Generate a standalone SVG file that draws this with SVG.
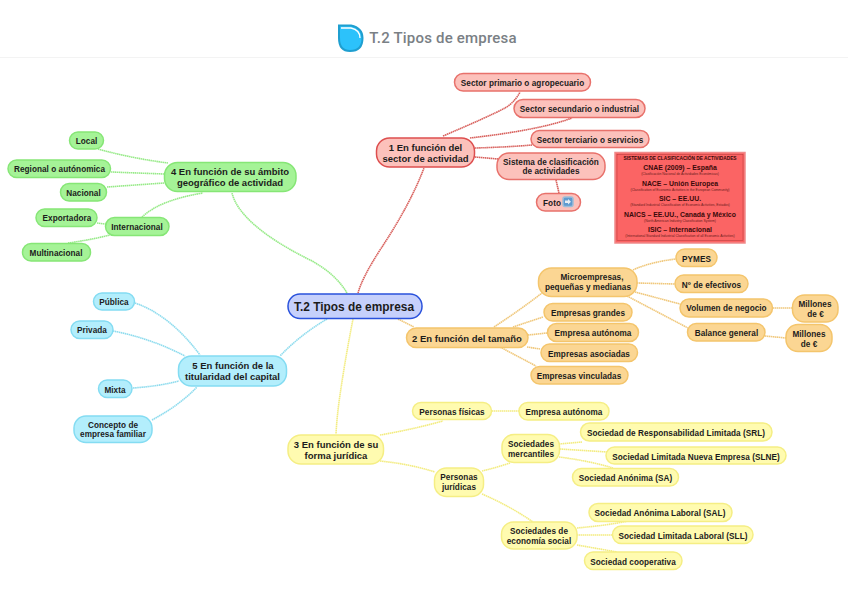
<svg xmlns="http://www.w3.org/2000/svg" width="848" height="599" viewBox="0 0 848 599">
<style>
text{font-family:"Liberation Sans",Arial,sans-serif;text-anchor:middle;fill:#1c1c1c}
.n rect{stroke-width:1.5}
.t{font-size:8.2px;font-weight:bold;letter-spacing:.05px}
.b{font-size:9.5px;font-weight:bold}
.r rect{fill:#fcc1bb;stroke:#e8716b}
.o rect{fill:#fbd693;stroke:#f4c56c}
.y rect{fill:#fffbb0;stroke:#f5ee84}
.g rect{fill:#a5f397;stroke:#86e676}
.c rect{fill:#b3eefc;stroke:#84dcf2}
.k{fill:none;stroke-width:1.6;stroke-dasharray:1.5 .5}
.kr{stroke:#d8605c}.ko{stroke:#f0c87c}.ky{stroke:#f3ec80}.kg{stroke:#97ea88}.kc{stroke:#8fdcee}
.s{font-size:3.4px;fill:#6a2020;font-weight:normal}
.h{font-size:6.9px;font-weight:bold;fill:#3a0a0a}
</style>
<rect width="848" height="599" fill="#fff"/>
<g id="header">
<line x1="0" y1="57.500" x2="848" y2="57.500" stroke="#f3f3f3"/>
<path d="M339 25.500H351Q362.500 28 362.500 38Q362.500 51 350 51Q339 51 339 38Z" fill="#2cc2fb" stroke="#1f9fd0" stroke-width="2"/>
<path d="M341 28H351Q360 30 360 38" fill="none" stroke="#fff" stroke-width="1.300"/>
<text x="443" y="43" style="font-family:Roboto,'Liberation Sans',sans-serif;font-size:15px;font-weight:500;fill:#7a8085;letter-spacing:.2px">T.2 Tipos de empresa</text>
</g>
<g id="connectors">
<path class="k kr" d="M358 293Q362 278 380 250Q410 205 424 168"/>
<path class="k kr" d="M443 136Q490 116 505 108Q515 102 520 92"/>
<path class="k kr" d="M470 138Q540 130 572 118"/>
<path class="k kr" d="M475 148Q510 147 532 145"/>
<path class="k kr" d="M475 157L498 159"/>
<path class="k kr" d="M556 180L559 193"/>
<path class="k kg" d="M347 293Q335 273 310 260Q240 225 232 193"/>
<path class="k kg" d="M98 149Q130 158 168 163"/>
<path class="k kg" d="M111 172L164 174"/>
<path class="k kg" d="M107 187L164 183"/>
<path class="k kg" d="M142 217Q160 200 203 193"/>
<path class="k kg" d="M97 223L105 224"/>
<path class="k kg" d="M68 243Q90 240 110 235"/>
<path class="k kc" d="M327 319Q300 335 280 356"/>
<path class="k kc" d="M135 303Q170 315 200 355"/>
<path class="k kc" d="M113 331Q150 338 185 356"/>
<path class="k kc" d="M133 388Q160 386 179 381"/>
<path class="k kc" d="M152 420Q180 405 197 387"/>
<path class="k ko" d="M398 319L414 327"/>
<path class="k ko" d="M494 327Q520 310 542 293"/>
<path class="k ko" d="M513 327L543 317"/>
<path class="k ko" d="M528 335L547 333"/>
<path class="k ko" d="M527 347L540 349"/>
<path class="k ko" d="M500 347L536 366"/>
<path class="k ko" d="M633 270Q650 262 676 259"/>
<path class="k ko" d="M637 283L675 284"/>
<path class="k ko" d="M635 292L680 304"/>
<path class="k ko" d="M627 296L688 328"/>
<path class="k ko" d="M773 308H793"/>
<path class="k ko" d="M765 336L786 338"/>
<path class="k ky" d="M353 319Q345 360 340 395Q337 415 336 434"/>
<path class="k ky" d="M380 435Q410 430 443 421"/>
<path class="k ky" d="M492 411H519"/>
<path class="k ky" d="M380 461Q410 464 435 472"/>
<path class="k ky" d="M482 471Q495 468 510 463"/>
<path class="k ky" d="M482 494Q510 506 533 522"/>
<path class="k ky" d="M559 444L582 442"/>
<path class="k ky" d="M560 449L607 452"/>
<path class="k ky" d="M559 457Q590 461 613 468"/>
<path class="k ky" d="M577 528Q610 525 628 521"/>
<path class="k ky" d="M577 535H613"/>
<path class="k ky" d="M577 545L617 552"/>
</g>
<g id="root" class="n"><rect x="288" y="294" width="134" height="24.500" rx="12" fill="#c6d0fb" stroke="#2a52dc" stroke-width="1.700"/><text x="354" y="311" style="font-size:11.900px;font-weight:bold">T.2 Tipos de empresa</text></g>
<g id="n1" class="n r"><rect x="376.500" y="138" width="98" height="29" rx="13" style="stroke:#dd4f4f"/><text class="b" x="425.500" y="151">1 En función del</text><text class="b" x="425.500" y="162">sector de actividad</text></g>
<g id="n11" class="n r"><rect x="454.500" y="73.500" width="136" height="17.500" rx="8.700"/><text class="t" x="522.500" y="86">Sector primario o agropecuario</text></g>
<g id="n12" class="n r"><rect x="514" y="99.500" width="131" height="18" rx="9"/><text class="t" x="579.500" y="112">Sector secundario o industrial</text></g>
<g id="n13" class="n r"><rect x="531" y="130.500" width="118" height="17" rx="8.500"/><text class="t" x="590" y="143">Sector terciario o servicios</text></g>
<g id="n14" class="n r"><rect x="497" y="153" width="108" height="26.500" rx="12"/><text class="t" x="551" y="165">Sistema de clasificación</text><text class="t" x="551" y="174">de actividades</text></g>
<g id="n15" class="n r"><rect x="536.500" y="193.500" width="44" height="17.500" rx="8.700"/><text class="t" x="552" y="206">Foto</text><rect x="563" y="197" width="10" height="9.500" rx="2" style="fill:#5f9bd0;stroke:#9dbdd8"/><path d="M565 200.500h3v-1.500l3 2.700-3 2.700v-1.500h-3z" fill="#e8eef4"/></g>
<g id="classification">
<rect x="615" y="152.500" width="130" height="90.500" fill="#fb6464" stroke="#f08a8a" stroke-width="1.500"/>
<rect x="617" y="154.500" width="126" height="86" fill="none" stroke="#b23a3a" stroke-width=".5"/>
<text x="680" y="160" style="font-size:4.800px;font-weight:bold;fill:#3a0a0a">SISTEMAS DE CLASIFICACIÓN DE ACTIVIDADES</text>
<text class="h" x="680" y="170">CNAE (2009) – España</text>
<text class="s" x="680" y="175">(Clasificación Nacional de Actividades Económicas)</text>
<text class="h" x="680" y="186">NACE – Unión Europea</text>
<text class="s" x="680" y="190.500">(Classification of Economic Activities in the European Community)</text>
<text class="h" x="680" y="201">SIC – EE.UU.</text>
<text class="s" x="680" y="206">(Standard Industrial Classification of Economic Activities, Estados)</text>
<text class="h" x="680" y="217">NAICS – EE.UU., Canadá y México</text>
<text class="s" x="680" y="222">(North American Industry Classification System)</text>
<text class="h" x="680" y="232">ISIC – Internacional</text>
<text class="s" x="680" y="237">(International Standard Industrial Classification of all Economic Activities)</text>
</g>
<g id="n2" class="n o"><rect x="406.500" y="328" width="121.500" height="19.500" rx="9.700"/><text class="b" x="467" y="341.500">2 En función del tamaño</text></g>
<g id="n21" class="n o"><rect x="538.500" y="268" width="98.500" height="28.500" rx="13"/><text class="t" x="592" y="280">Microempresas,</text><text class="t" x="588" y="290">pequeñas y medianas</text></g>
<g id="n22" class="n o"><rect x="544" y="303.500" width="88" height="17.500" rx="8.700"/><text class="t" x="588" y="315.500">Empresas grandes</text></g>
<g id="n23" class="n o"><rect x="547.500" y="323.500" width="91" height="18" rx="9"/><text class="t" x="593" y="336">Empresa autónoma</text></g>
<g id="n24" class="n o"><rect x="541" y="344" width="96.500" height="17.500" rx="8.700"/><text class="t" x="589" y="356.500">Empresas asociadas</text></g>
<g id="n25" class="n o"><rect x="531" y="366.500" width="97" height="17.500" rx="8.700"/><text class="t" x="579" y="378.500">Empresas vinculadas</text></g>
<g id="n26" class="n o"><rect x="676" y="249" width="41" height="17.500" rx="8.700"/><text class="t" x="696.500" y="261.500">PYMES</text></g>
<g id="n27" class="n o"><rect x="675" y="275" width="73" height="17.500" rx="8.700"/><text class="t" x="711.500" y="287.500">Nº de efectivos</text></g>
<g id="n28" class="n o"><rect x="680" y="299" width="92.500" height="18" rx="9"/><text class="t" x="726.500" y="311">Volumen de negocio</text></g>
<g id="n29" class="n o"><rect x="687.500" y="323.500" width="77.500" height="17.500" rx="8.700"/><text class="t" x="726.500" y="335.500">Balance general</text></g>
<g id="n210" class="n o"><rect x="792.500" y="295" width="45.500" height="27" rx="12"/><text class="t" x="815" y="306.500">Millones</text><text class="t" x="815.500" y="316.500">de €</text></g>
<g id="n211" class="n o"><rect x="786" y="324.500" width="46" height="27" rx="12"/><text class="t" x="809" y="336.500">Millones</text><text class="t" x="809" y="346.500">de €</text></g>
<g id="n3" class="n y"><rect x="288" y="435" width="95.500" height="29" rx="13"/><text class="b" x="336" y="448">3 En función de su</text><text class="b" x="336" y="459">forma jurídica</text></g>
<g id="n31" class="n y"><rect x="412.500" y="402.500" width="79" height="17" rx="8.500"/><text class="t" x="452" y="414.500">Personas físicas</text></g>
<g id="n32" class="n y"><rect x="519" y="402.500" width="90" height="17.500" rx="8.700"/><text class="t" x="564" y="415">Empresa autónoma</text></g>
<g id="n33" class="n y"><rect x="434.500" y="468" width="49" height="28.500" rx="12"/><text class="t" x="459" y="480">Personas</text><text class="t" x="459" y="490">jurídicas</text></g>
<g id="n34" class="n y"><rect x="502" y="434.500" width="57.500" height="28" rx="12"/><text class="t" x="531" y="447">Sociedades</text><text class="t" x="531" y="456.500">mercantiles</text></g>
<g id="n35" class="n y"><rect x="580.500" y="423" width="191.500" height="18" rx="9"/><text class="t" x="676" y="435.500">Sociedad de Responsabilidad Limitada (SRL)</text></g>
<g id="n36" class="n y"><rect x="606" y="447" width="180" height="17" rx="8.500"/><text class="t" x="696" y="459.500">Sociedad Limitada Nueva Empresa (SLNE)</text></g>
<g id="n37" class="n y"><rect x="572.500" y="468.500" width="106" height="17.500" rx="8.700"/><text class="t" x="625.500" y="480.500">Sociedad Anónima (SA)</text></g>
<g id="n38" class="n y"><rect x="501.500" y="522" width="75.500" height="27" rx="12"/><text class="t" x="539" y="534">Sociedades de</text><text class="t" x="539" y="544">economía social</text></g>
<g id="n39" class="n y"><rect x="589" y="503.500" width="143" height="18" rx="9"/><text class="t" x="660" y="516">Sociedad Anónima Laboral (SAL)</text></g>
<g id="n310" class="n y"><rect x="612.500" y="526" width="140.500" height="17.500" rx="8.700"/><text class="t" x="683" y="538.500">Sociedad Limitada Laboral (SLL)</text></g>
<g id="n311" class="n y"><rect x="584.500" y="552" width="97.500" height="17.500" rx="8.700"/><text class="t" x="633" y="564.500">Sociedad cooperativa</text></g>
<g id="n4" class="n g"><rect x="164.500" y="162.500" width="131.500" height="29" rx="13"/><text class="b" x="230" y="175">4 En función de su ámbito</text><text class="b" x="230" y="186">geográfico de actividad</text></g>
<g id="n41" class="n g"><rect x="69.500" y="132" width="34" height="17" rx="8.500"/><text class="t" x="86.500" y="144">Local</text></g>
<g id="n42" class="n g"><rect x="8" y="160" width="102.500" height="17.500" rx="8.700"/><text class="t" x="59.500" y="172">Regional o autónomica</text></g>
<g id="n43" class="n g"><rect x="60.500" y="183.500" width="46" height="17.500" rx="8.700"/><text class="t" x="83.500" y="195.500">Nacional</text></g>
<g id="n44" class="n g"><rect x="105.500" y="217.500" width="63.500" height="18" rx="9"/><text class="t" x="137" y="229.500">Internacional</text></g>
<g id="n45" class="n g"><rect x="36" y="209" width="61" height="17.500" rx="8.700"/><text class="t" x="67" y="221">Exportadora</text></g>
<g id="n46" class="n g"><rect x="22.500" y="243.500" width="68" height="17.500" rx="8.700"/><text class="t" x="56" y="255.500">Multinacional</text></g>
<g id="n5" class="n c"><rect x="178.500" y="356" width="108" height="30" rx="13"/><text class="b" x="233" y="369">5 En función de la</text><text class="b" x="232.500" y="380">titularidad del capital</text></g>
<g id="n51" class="n c"><rect x="93.500" y="293" width="41" height="17" rx="8.500"/><text class="t" x="114" y="304.500">Pública</text></g>
<g id="n52" class="n c"><rect x="71" y="321" width="42" height="17.500" rx="8.700"/><text class="t" x="92" y="333">Privada</text></g>
<g id="n53" class="n c"><rect x="98.500" y="380" width="33.500" height="17.500" rx="8.700"/><text class="t" x="115" y="392.500">Mixta</text></g>
<g id="n54" class="n c"><rect x="74" y="416" width="78" height="26.500" rx="12"/><text class="t" x="113" y="428">Concepto de</text><text class="t" x="113" y="437">empresa familiar</text></g>
</svg>
